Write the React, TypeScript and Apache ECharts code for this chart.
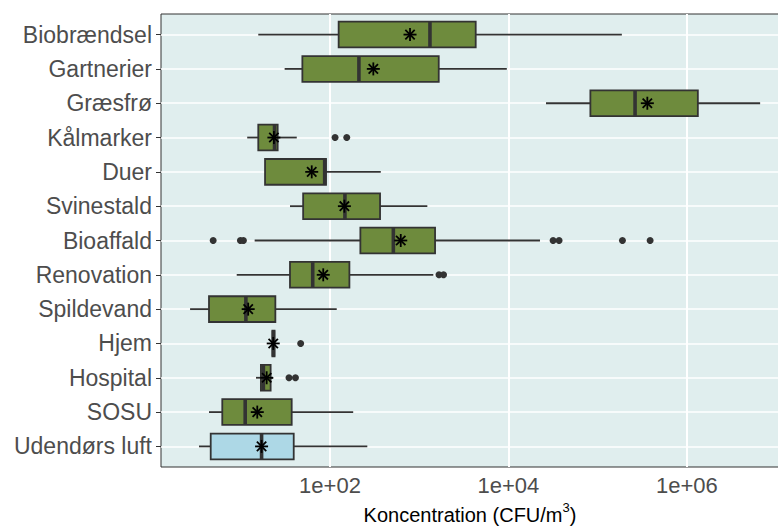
import { useEffect, useRef } from "react";
import * as echarts from "echarts";

// Groups, top to bottom
const categories = [
  "Biobrændsel",
  "Gartnerier",
  "Græsfrø",
  "Kålmarker",
  "Duer",
  "Svinestald",
  "Bioaffald",
  "Renovation",
  "Spildevand",
  "Hjem",
  "Hospital",
  "SOSU",
  "Udendørs luft",
];

// Box statistics, CFU/m3
const whiskerLow = [15.7, 31, 26400, 11.8, 18.7, 35.6, 14.3, 9.0, 2.7, 22.6, 14.8, 4.4, 3.4];
const lowerQuartile = [125, 49, 83000, 15.7, 18.7, 50, 219, 35.6, 4.4, 22.6, 16.8, 6.2, 4.6];
const medians = [1320, 211, 263000, 23.9, 87.2, 147, 513, 64, 11.4, 23.2, 17.9, 11.2, 17.1];
const upperQuartile = [4300, 1656, 1330000, 25.9, 90.2, 364, 1506, 165, 24.4, 23.9, 21.6, 37.2, 39.2];
const whiskerHigh = [187000, 9600, 6640000, 42.4, 371, 1234, 22600, 1440, 119, 23.9, 23.1, 182, 262];
const means = [789, 306, 361000, 23.5, 62.4, 145, 621, 84, 12.1, 23.1, 19.5, 15.3, 17.1];

// Outliers: [category index, CFU/m3]
const outliers: [number, number][] = [
  [3, 114], [3, 154],
  [6, 4.9], [6, 9.9], [6, 10.7], [6, 31700], [6, 37000], [6, 190000], [6, 388000],
  [7, 1667], [7, 1875],
  [9, 46.9],
  [10, 34.7], [10, 41.0],
];

// x tick labels (log10 exponents)
const xTickExponents = [2, 4, 6];
const xTickLabels = ["1e+02", "1e+04", "1e+06"];

const GREEN = "#6E8B3D";
const BLUE = "#ADD8E6";
const EDGE = "#333333";
const FONT = "Liberation Sans";

export default function App() {
  const ref = useRef<HTMLDivElement>(null);

  useEffect(() => {
    if (!ref.current) return;
    const chart = echarts.init(ref.current, undefined, { renderer: "svg" });
    const lg = (v: number) => Math.log10(v);

    const boxData = categories.map((_, i) => [
      i,
      lg(whiskerLow[i]),
      lg(lowerQuartile[i]),
      lg(medians[i]),
      lg(upperQuartile[i]),
      lg(whiskerHigh[i]),
    ]);
    const meanData = categories.map((_, i) => [i, lg(means[i])]);
    const outlierData = outliers.map(([c, v]) => [lg(v), c]);

    const option: any = {
      animation: false,
      backgroundColor: "#ffffff",
      grid: {
        left: 161,
        top: 14,
        width: 618,
        height: 453,
        show: true,
        backgroundColor: "#E0EEEE",
        borderColor: "#333333",
        borderWidth: 1,
        containLabel: false,
        outerBoundsMode: "none",
      },
      xAxis: {
        type: "value",
        min: 0.1054,
        max: 7.0336,
        axisLine: { show: false },
        splitLine: { show: false },
        axisTick: {
          show: true,
          length: 5,
          customValues: xTickExponents,
          lineStyle: { color: "#333333", width: 1 },
        },
        axisLabel: {
          customValues: xTickExponents,
          formatter: (v: number) => xTickLabels[xTickExponents.indexOf(Math.round(v))] ?? "",
          color: "#4D4D4D",
          fontSize: 22,
          fontFamily: FONT,
          margin: 7,
        },
        name: "{a|Koncentration (CFU/m}{s|3}{a|)}",
        nameLocation: "middle",
        nameGap: 33,
        nameTextStyle: {
          color: "#000000",
          fontSize: 20,
          fontFamily: FONT,
          rich: {
            a: { fontSize: 20, color: "#000000", fontFamily: FONT, lineHeight: 24, verticalAlign: "bottom" },
            s: { fontSize: 13, color: "#000000", fontFamily: FONT, lineHeight: 13, verticalAlign: "top" },
          },
        },
      },
      yAxis: {
        type: "value",
        inverse: true,
        min: -0.6,
        max: 12.6,
        axisLine: { show: false },
        splitLine: { show: false },
        axisTick: {
          show: true,
          length: 5,
          customValues: categories.map((_, i) => i),
          lineStyle: { color: "#333333", width: 1 },
        },
        axisLabel: {
          customValues: categories.map((_, i) => i),
          formatter: (v: number) => categories[Math.round(v)] ?? "",
          color: "#4D4D4D",
          fontSize: 23,
          fontFamily: FONT,
          margin: 9,
        },
      },
      series: [
        {
          type: "scatter",
          data: [],
          z: 1,
          silent: true,
          markLine: {
            z: 1,
            silent: true,
            symbol: ["none", "none"],
            label: { show: false },
            animation: false,
            lineStyle: { color: "#ffffff", type: "solid", width: 1.6 },
            data: [
              ...xTickExponents.map((e) => ({ xAxis: e, lineStyle: { color: "#ffffff", type: "solid", width: 2 } })),
              ...categories.map((_, i) => ({ yAxis: i })),
            ],
          },
        },
        {
          type: "custom",
          z: 3,
          data: boxData,
          renderItem: (params: any, api: any) => {
            const y = api.value(0);
            const idx = params.dataIndex;
            const pLo = api.coord([api.value(1), y]);
            const pA = api.coord([api.value(2), y]);
            const pM = api.coord([api.value(3), y]);
            const pB = api.coord([api.value(4), y]);
            const pHi = api.coord([api.value(5), y]);
            const h = Math.abs(api.size([0, 0.75])[1]);
            const fill = idx === categories.length - 1 ? BLUE : GREEN;
            return {
              type: "group",
              children: [
                {
                  type: "line",
                  shape: { x1: pLo[0], y1: pLo[1], x2: pA[0], y2: pA[1] },
                  style: { stroke: EDGE, lineWidth: 1.8 },
                },
                {
                  type: "line",
                  shape: { x1: pB[0], y1: pB[1], x2: pHi[0], y2: pHi[1] },
                  style: { stroke: EDGE, lineWidth: 1.8 },
                },
                {
                  type: "rect",
                  shape: { x: pA[0], y: pA[1] - h / 2, width: Math.max(pB[0] - pA[0], 0.5), height: h },
                  style: { fill, stroke: EDGE, lineWidth: 1.8 },
                },
                {
                  type: "line",
                  shape: { x1: pM[0], y1: pM[1] - h / 2, x2: pM[0], y2: pM[1] + h / 2 },
                  style: { stroke: EDGE, lineWidth: 3.6 },
                },
              ],
            };
          },
        },
        {
          type: "scatter",
          z: 4,
          data: outlierData,
          symbol: "circle",
          symbolSize: 7,
          itemStyle: { color: EDGE, opacity: 1 },
          silent: true,
        },
        {
          type: "custom",
          z: 5,
          data: meanData,
          renderItem: (_params: any, api: any) => {
            const p = api.coord([api.value(1), api.value(0)]);
            const r = 6.5;
            const d = r * 0.72;
            const st = { stroke: "#000000", lineWidth: 1.8 };
            return {
              type: "group",
              children: [
                { type: "line", shape: { x1: p[0] - r, y1: p[1], x2: p[0] + r, y2: p[1] }, style: st },
                { type: "line", shape: { x1: p[0], y1: p[1] - r, x2: p[0], y2: p[1] + r }, style: st },
                { type: "line", shape: { x1: p[0] - d, y1: p[1] - d, x2: p[0] + d, y2: p[1] + d }, style: st },
                { type: "line", shape: { x1: p[0] - d, y1: p[1] + d, x2: p[0] + d, y2: p[1] - d }, style: st },
              ],
            };
          },
        },
      ],
    };

    chart.setOption(option);
    return () => chart.dispose();
  }, []);

  return (
    <div
      ref={ref}
      style={{ position: "fixed", left: 0, top: 0, width: 778, height: 527, background: "#fff" }}
    />
  );
}
